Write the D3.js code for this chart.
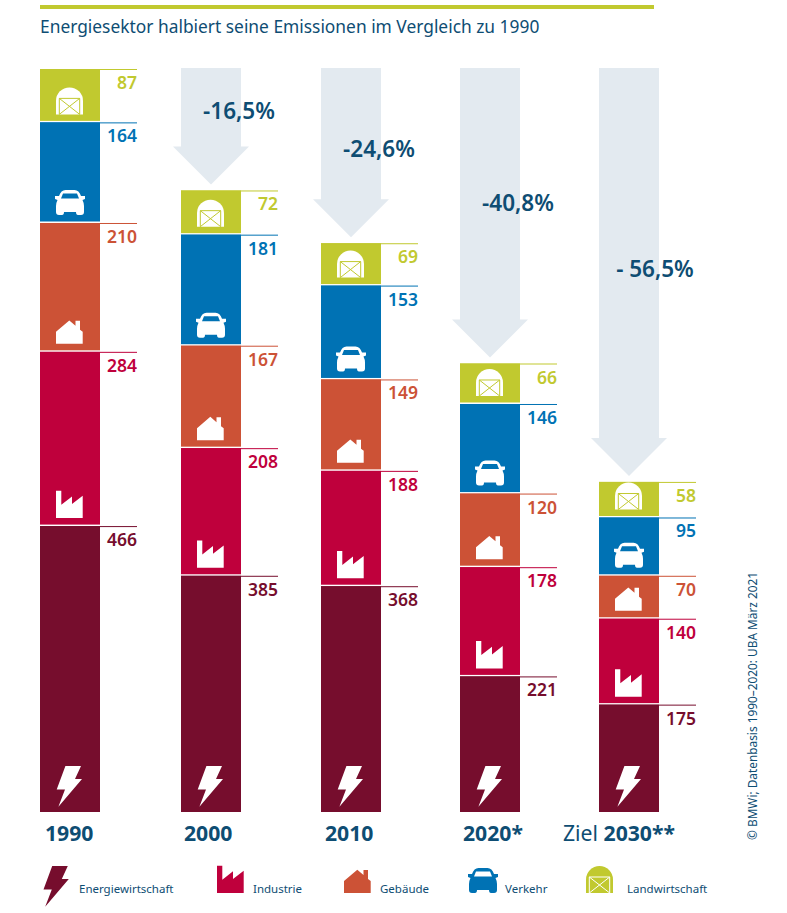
<!DOCTYPE html>
<html><head><meta charset="utf-8">
<script src="https://cdn.jsdelivr.net/npm/d3@7"></script>
<style>html,body{margin:0;padding:0;background:#fff}svg{display:block}text{font-family:"Noto Sans",sans-serif}</style>
</head><body><svg id="c" width="787" height="913"></svg>
<script>
const years = ["1990","2000","2010","2020","2030"];
const sectors = ["Energiewirtschaft","Industrie","Gebäude","Verkehr","Landwirtschaft"];
const energie = [466,385,368,221,175];
const industrie = [284,208,188,178,140];
const gebaeude = [210,167,149,120,70];
const verkehr = [164,181,153,146,95];
const landwirtschaft = [87,72,69,66,58];
const reductions = ["-16,5%","-24,6%","-40,8%","- 56,5%"];
const colors = ["#760d2d","#bf003c","#cc5236","#0072b4","#c1c92f"];
const subtitle = "Energiesektor halbiert seine Emissionen im Vergleich zu 1990";
const credit = "© BMWi; Datenbasis 1990–2020: UBA März 2021";
const series = [energie,industrie,gebaeude,verkehr,landwirtschaft];
const navy = "#0e4d73";

const svg = d3.select("#c");
const barW = 60;
const x = d3.scaleOrdinal().domain(years).range([40,181,321,460,599]);
const y = d3.scaleLinear().domain([0,1211]).range([812,69]);
const stack = years.map((yr,i)=>{let s=0;return series.map((vals,k)=>{const d={yr,k,v:vals[i],y0:s,y1:s+vals[i]};s+=vals[i];return d;});});
const totals = stack.map(a=>a[a.length-1].y1);

svg.append("rect").attr("x",40).attr("y",5).attr("width",614).attr("height",4).attr("fill","#c1c92f");
svg.append("text").attr("x",40).attr("y",33).attr("font-size",17.37).attr("fill",navy).text(subtitle);

const arrowG = svg.append("g");
const labelY=[111,149,203,269];
const labelDx=[28,28,28,26];
years.slice(1).forEach((yr,i)=>{
  const x0=x(yr), top=68, tip=y(totals[i+1])-6, neck=tip-38;
  const p=d3.path();
  p.moveTo(x0,top);p.lineTo(x0+barW,top);p.lineTo(x0+barW,neck);p.lineTo(x0+barW+8,neck);
  p.lineTo(x0+barW/2,tip);p.lineTo(x0-8,neck);p.lineTo(x0,neck);p.closePath();
  arrowG.append("path").attr("d",p.toString()).attr("fill","#e3eaf0");
  arrowG.append("text").attr("x",x0+barW/2+labelDx[i]).attr("y",labelY[i]+8).attr("text-anchor","middle")
    .attr("font-size",22.5).attr("font-weight",600).attr("fill",navy).text(reductions[i]);
});

// icons: origin at bottom-left of each glyph
function icon(g,k,fill,hole){
  if(k===0){g.append("path").attr("d","M8.7,-40.7L24.3,-40.7L18.3,-27.7L25.3,-27.7L1.7,0L8.3,-17.3L0,-17.3Z").attr("fill",fill);}
  if(k===1){g.append("path").attr("d","M0,-27.3L5.3,-27.3L5.3,-13.3L16,-21.7L16,-14L26.7,-22.3L26.7,0L0,0Z").attr("fill",fill);}
  if(k===2){g.append("path").attr("d","M0,-12L13.3,-23.3L19.5,-18L19.5,-23L24,-23L24,-14L26.7,-12L26.7,0L0,0Z").attr("fill",fill);}
  if(k===3){g.append("path").attr("d","M4,-19Q6,-25 10.5,-25L19.5,-25Q24,-25 26,-19L30,-19L30,-16L27.5,-15Q29,-12 29,-9L29,-3Q29,0 26,0L23,0Q21,0 21,-3L9,-3Q9,0 7,0L4,0Q1,0 1,-3L1,-9Q1,-12 2.5,-15L0,-16L0,-19Z M6,-16.5L24,-16.5L22,-21.5L8,-21.5Z").attr("fill-rule","evenodd").attr("fill",fill);}
  if(k===4){g.append("path").attr("d","M0,0L0,-13.5A13.5,13.5 0 0 1 27,-13.5L27,0Z").attr("fill",fill);
    g.append("path").attr("d","M3.3,0L3.3,-16L23.7,-16L23.7,0 M3.3,-16L23.7,0 M23.7,-16L3.3,0").attr("fill","none").attr("stroke",hole).attr("stroke-width",1);}
}

const iconDx=[16.7,16,16,15,16], iconDy=[5.3,8,8,8,8];
const barG = svg.selectAll("g.bar").data(stack).join("g").attr("class","bar");
barG.each(function(col){
  const g=d3.select(this);
  col.forEach(d=>{
    const xx=x(d.yr), t=y(d.y1), b=y(d.y0);
    g.append("rect").attr("x",xx).attr("y",t).attr("width",barW).attr("height",b-t-(d.k===0?0:1.5)).attr("fill",colors[d.k]);
    g.append("line").attr("x1",xx).attr("x2",xx+97).attr("y1",t+.5).attr("y2",t+.5).attr("stroke",colors[d.k]).attr("stroke-width",1);
    g.append("text").attr("x",xx+97).attr("y",t+20).attr("text-anchor","end").attr("font-size",17.5).attr("font-weight",600).attr("fill",colors[d.k]).text(d.v);
    const ig=g.append("g").attr("transform",`translate(${xx+iconDx[d.k]},${b-iconDy[d.k]})`);
    icon(ig,d.k,"#fff",colors[d.k]);
  });
});

const labelG=svg.append("g");
const yearDx=[5,3,4,3,-36];
years.forEach((yr,i)=>{
  const t=labelG.append("text").attr("x",x(yr)+yearDx[i]).attr("y",841).attr("font-size",21.2).attr("font-weight",700).attr("fill",navy);
  if(i===4)t.append("tspan").attr("font-weight",400).text("Ziel ");
  t.append("tspan").text(yr+(i===3?"*":i===4?"**":""));
});

const legendX=[43.5,217,344,468,586], legendTX=[79,253,380,505,627];
sectors.forEach((s,k)=>{
  const ig=svg.append("g").attr("transform",`translate(${legendX[k]},${k===0?906.7:893})`);
  icon(ig,k,colors[k],"#fff");
  svg.append("text").attr("x",legendTX[k]).attr("y",893).attr("font-size",11.5).attr("fill",navy).text(s);
});

svg.append("text").attr("transform","translate(757,840) rotate(-90)").attr("font-size",11.85).attr("fill",navy).text(credit);
</script></body></html>
